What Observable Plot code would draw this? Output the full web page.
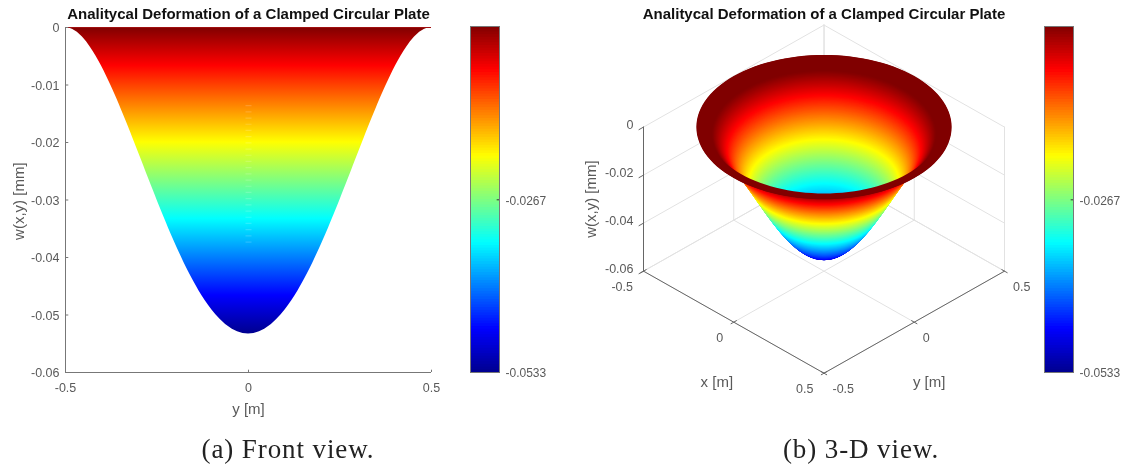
<!DOCTYPE html>
<html><head><meta charset="utf-8">
<script src="https://cdn.jsdelivr.net/npm/d3@7"></script>
<script src="https://cdn.jsdelivr.net/npm/@observablehq/plot@0.6"></script>
<style>
html,body{margin:0;padding:0;background:#fff;width:1123px;height:467px;overflow:hidden}
#root{position:relative;width:1123px;height:467px}
#root svg{position:absolute;background:transparent;overflow:visible;filter:blur(.45px)}
.cap{position:absolute;font-family:"Liberation Serif",serif;font-size:27px;line-height:30px;color:#222;letter-spacing:.9px;white-space:nowrap;transform:translateX(-50%);filter:blur(.4px)}
</style></head><body><div id="root"></div>
<script>
// ---- data ----
const titleText = "Analitycal Deformation of a Clamped Circular Plate";
const captions = ["(a) Front view.", "(b) 3-D view."];
const deflectionTicks = [0,-0.01,-0.02,-0.03,-0.04,-0.05,-0.06];
const deflectionTicks3D = [0,-0.02,-0.04,-0.06];
const lengthTicks = [-0.5,0,0.5];
const barTicks = [-0.0267,-0.0533];
const deepest = -0.0533;
// plate profile: half width and deflection (as a share of the deepest point), top to bottom
const profileRadius = [.5,.49,.48,.4677,.4537,.4426,.433,.4244,.4165,.4091,.402,.3953,.3888,.3826,.3765,.3706,.3648,.3591,.3536,.3481,.3427,.3373,.332,.3268,.3216,.3164,.3113,.3062,.3011,.296,.2909,.2859,.2808,.2757,.2706,.2655,.2603,.2552,.25,.2448,.2395,.2342,.2288,.2234,.2179,.2123,.2066,.2009,.1951,.1891,.183,.1768,.1704,.1638,.157,.15,.1427,.1351,.1271,.1186,.1095,.0999,.0892,.077,.0626,.0442,.03,.015,0];
const profileShare = [0,.0016,.0062,.0156,.0313,.0469,.0625,.0781,.0938,.1094,.125,.1406,.1563,.1719,.1875,.2031,.2188,.2344,.25,.2656,.2813,.2969,.3125,.3281,.3438,.3594,.375,.3906,.4063,.4219,.4375,.4531,.4688,.4844,.5,.5156,.5313,.5469,.5625,.5781,.5938,.6094,.625,.6406,.6563,.6719,.6875,.7031,.7188,.7344,.75,.7656,.7813,.7969,.8125,.8281,.8438,.8594,.875,.8906,.9063,.9219,.9375,.9531,.9688,.9844,.9928,.9982,1];
const surfaceColourLag = 0.0027;                    // colours sit this much shallower on the 3-D surface
const flatRimInnerRadius = 0.46;                    // dark flat rim visible in the 3-D view
const jetPositions = [0,0.125,0.375,0.625,0.875,1];
const jetColors = ["#00008f","#0000ff","#00ffff","#ffff00","#ff0000","#800000"];

const rows = profileRadius.map((r,i)=>({r,w:deepest*profileShare[i],a:-r,c:r}));
const colorOpt = {type:"linear",domain:jetPositions.map(p=>deepest*(1-p)),range:jetColors,interpolate:"rgb",clamp:true};

const root = document.getElementById("root");
const FONT = "Liberation Sans, Arial, sans-serif";
const GREY="#5a5a5a", AXIS="#777", GRID="#e2e2e2";
function place(el,left,top){el.style.left=left+"px";el.style.top=top+"px";root.appendChild(el);}

// vertical jet gradient for the front-view silhouette
const gradientDefs = () => {
  const defs = d3.create("svg:defs");
  const g = defs.append("linearGradient").attr("id","jetFront").attr("x1",0).attr("x2",0).attr("y1",0).attr("y2",1);
  jetPositions.map((p,i)=>({o:1-p,c:jetColors[i]})).reverse().forEach(s=>g.append("stop").attr("offset",s.o).attr("stop-color",s.c));
  return defs.node();
};

// ---- front view ----
const front = Plot.plot({
  width:465,height:430,marginLeft:65,marginRight:34,marginTop:27,marginBottom:58,
  style:{fontFamily:FONT,background:"transparent"},
  x:{domain:[-0.5,0.5],axis:null},
  y:{domain:[-0.06,0],axis:null},
  marks:[
    gradientDefs,
    Plot.areaX(rows,{y:"w",x1:"a",x2:"c",fill:"url(#jetFront)"}),
    Plot.ruleX([0],{y1:-0.0375,y2:-0.0135,stroke:"#fff",strokeOpacity:.16,strokeWidth:6,strokeDasharray:"1.2 5"}),
    Plot.ruleY([0],{stroke:"#a01010",strokeWidth:1}),
    Plot.ruleX([-0.5],{y1:-0.06,y2:0,stroke:AXIS,strokeWidth:1}),
    Plot.ruleY([-0.06],{stroke:AXIS,strokeWidth:1}),
    Plot.ruleX(lengthTicks,{y1:-0.06,y2:-0.0596,stroke:AXIS}),
    Plot.ruleY(deflectionTicks,{x1:-0.5,x2:-0.491,stroke:AXIS}),
    Plot.text(deflectionTicks,{x:()=>-0.5,y:d=>d,text:d=>String(d),textAnchor:"end",dx:-6,dy:.5,fontSize:12.5,fill:GREY}),
    Plot.text(lengthTicks,{x:d=>d,y:()=>-0.06,text:String,dy:15,fontSize:12.5,fill:GREY}),
    Plot.text(["y [m]"],{x:()=>0,y:()=>-0.06,text:d=>d,dy:37,fontSize:15,fill:GREY}),
    Plot.text(["w(x,y) [mm]"],{x:()=>-0.5,y:()=>-0.0302,text:d=>d,dx:-46,rotate:-90,fontSize:15,fill:GREY}),
    Plot.text([titleText],{x:()=>0,y:()=>0,text:d=>d,dy:-13,fontSize:15,fontWeight:"bold",fill:"#111"})
  ]});
place(front,0,0);

// ---- colour bars ----
function colorbar(left){
  const n=128;
  const cells = d3.range(n).map(k=>({a:deepest*k/n,m:deepest*(k+.5)/n}));
  const bar = Plot.plot({
    width:90,height:374,marginLeft:1,marginRight:60,marginTop:26,marginBottom:2,
    style:{fontFamily:FONT,background:"transparent"},
    x:{domain:[0,1],axis:null},
    y:{domain:[deepest,0],axis:null},
    color:colorOpt,
    marks:[
      Plot.rect(cells,{x1:()=>0,x2:()=>1,y1:"a",y2:()=>deepest,fill:"m"}),
      Plot.frame({stroke:AXIS,strokeWidth:1}),
      Plot.ruleY([barTicks[0]],{x1:.92,x2:1,stroke:"#333"}),
      Plot.text(barTicks,{x:()=>1,y:d=>d,text:d=>d.toFixed(4),textAnchor:"start",dx:6,dy:1,fontSize:12,fill:GREY})
    ]});
  place(bar,left,0);
}
colorbar(469);
colorbar(1043);

// ---- 3-D view ----
const K = 0.0425;                                   // vertical foreshortening of the floor
const project = (x,y,z)=>({u:x+y,v:z-K*(x-y)});
const segment = (id,a,b)=>[{id,...project(...a)},{id,...project(...b)}];
const xs=lengthTicks, zs=deflectionTicks3D;
const gridSegs=[];let gid=0;
const addGrid=(a,b)=>gridSegs.push(...segment(gid++,a,b));
for(const t of xs){
  addGrid([t,-.5,-.06],[t,.5,-.06]);               // floor
  addGrid([-.5,t,-.06],[.5,t,-.06]);
  addGrid([-.5,t,-.06],[-.5,t,0]);                 // left back wall
  addGrid([t,.5,-.06],[t,.5,0]);                   // right back wall
}
for(const z of zs){
  addGrid([-.5,-.5,z],[-.5,.5,z]);
  addGrid([-.5,.5,z],[.5,.5,z]);
}
const axisSegs=[...segment(0,[-.5,-.5,-.06],[-.5,-.5,0]),...segment(1,[-.5,-.5,-.06],[.5,-.5,-.06]),...segment(2,[.5,-.5,-.06],[.5,.5,-.06])];
const tickSegs=[];let tid=0;
for(const t of xs){
  tickSegs.push(...segment(tid++,[t,-.515,-.06],[t,-.485,-.06]));
  tickSegs.push(...segment(tid++,[.485,t,-.06],[.515,t,-.06]));
}
for(const z of zs) tickSegs.push(...segment(tid++,[-.5,-.5,z],[-.5,-.525,z]));

// rings of the surface of revolution: each profile row is swept round the plate's axis
const N=120, SUB=3;
const angles=d3.range(N).map(i=>i/N*2*Math.PI);
const rings=[];
for(let i=0;i<rows.length-1;i++){
  const A=rows[i],B=rows[i+1];
  for(let s=0;s<SUB;s++){
    const f=(s+.5)/SUB;
    const w=A.w+(B.w-A.w)*f;
    rings.push({r:A.r+(B.r-A.r)*f,w,shade:Math.min(0,w+surfaceColourLag)});
  }
}
const ringVerts=(ring,id)=>angles.map(t=>{const p=project(ring.r*Math.cos(t),ring.r*Math.sin(t),ring.w);return {id,shade:ring.shade,u:p.u,v:p.v};});
// outside of the bowl: discs stacked from the deepest ring up to the rim
const outerVerts=[...rings].reverse().flatMap(ringVerts);
// inside of the bowl: discs nested from the rim down to the centre (clipped to the rim below)
const innerVerts=rings.flatMap(ringVerts);
// flat rim on top: outer loop then inner loop walked backwards
const rimLoop=r=>angles.map(t=>project(r*Math.cos(t),r*Math.sin(t),0));
const rimOuter=rimLoop(.5);
const rimInner=rimLoop(flatRimInnerRadius);
const rimVerts=[...rimOuter,rimOuter[0],rimInner[0],...[...rimInner].reverse()].map(p=>({...p,shade:0}));

const view = Plot.plot({
  width:560,height:430,marginLeft:83,marginRight:116,marginTop:26.7,marginBottom:57.3,
  style:{fontFamily:FONT,background:"transparent"},
  x:{domain:[-1,1],axis:null},
  y:{domain:[-0.1025,0.0416],axis:null},
  color:colorOpt,
  marks:[
    Plot.line(gridSegs,{x:"u",y:"v",z:"id",stroke:GRID,strokeWidth:1}),
    Plot.line(outerVerts,{x:"u",y:"v",z:"id",fill:"shade",stroke:"none"}),
    Plot.line(innerVerts,{x:"u",y:"v",z:"id",fill:"shade",stroke:"none"}),
    Plot.line(rimVerts,{x:"u",y:"v",fill:"shade",stroke:"none"}),
    Plot.line(axisSegs,{x:"u",y:"v",z:"id",stroke:"#666",strokeWidth:1}),
    Plot.line(tickSegs,{x:"u",y:"v",z:"id",stroke:"#666",strokeWidth:1}),
    Plot.text(zs,{x:d=>project(-.5,-.5,d).u,y:d=>project(-.5,-.5,d).v,text:d=>String(d),textAnchor:"end",dx:-10,dy:-2.5,fontSize:12.5,fill:GREY}),
    Plot.text(xs,{x:d=>project(d,-.5,-.06).u,y:d=>project(d,-.5,-.06).v,text:String,textAnchor:"end",dx:-10.5,dy:15.5,fontSize:12.5,fill:GREY}),
    Plot.text(xs,{x:d=>project(.5,d,-.06).u,y:d=>project(.5,d,-.06).v,text:String,textAnchor:"start",dx:8.5,dy:15.5,fontSize:12.5,fill:GREY}),
    Plot.text(["x [m]"],{x:()=>project(.1,-.5,-.06).u,y:()=>project(.1,-.5,-.06).v,text:d=>d,dx:-35,dy:50,fontSize:15,fill:GREY}),
    Plot.text(["y [m]"],{x:()=>project(.5,-.1,-.06).u,y:()=>project(.5,-.1,-.06).v,text:d=>d,dx:33,dy:50,fontSize:15,fill:GREY}),
    Plot.text(["w(x,y) [mm]"],{x:()=>project(-.5,-.5,-.03).u,y:()=>project(-.5,-.5,-.03).v,text:d=>d,dx:-52,rotate:-90,fontSize:15,fill:GREY}),
    Plot.text([titleText],{x:()=>0,y:()=>0.0416,text:d=>d,dy:-13,fontSize:15,fontWeight:"bold",fill:"#111"})
  ]});
// clip the nested inside discs to just within the flat rim, using the plot's own scales
const sx=view.scale("x"), sy=view.scale("y");
const clipPoints=rimLoop(.485).map(p=>[sx.apply(p.u),sy.apply(p.v)].join(",")).join(" ");
const clipDefs=d3.select(view).insert("defs",":first-child").append("clipPath").attr("id","rimClip");
clipDefs.append("polygon").attr("points",clipPoints);
d3.select(view).selectAll('g[aria-label="line"]').filter((d,i)=>i===2).attr("clip-path","url(#rimClip)");
place(view,560,0);

// ---- captions ----
[[captions[0],288],[captions[1],861]].forEach(([t,x])=>{
  const d=document.createElement("div");d.className="cap";d.textContent=t;d.style.left=x+"px";d.style.top="434px";root.appendChild(d);
});
</script></body></html>
